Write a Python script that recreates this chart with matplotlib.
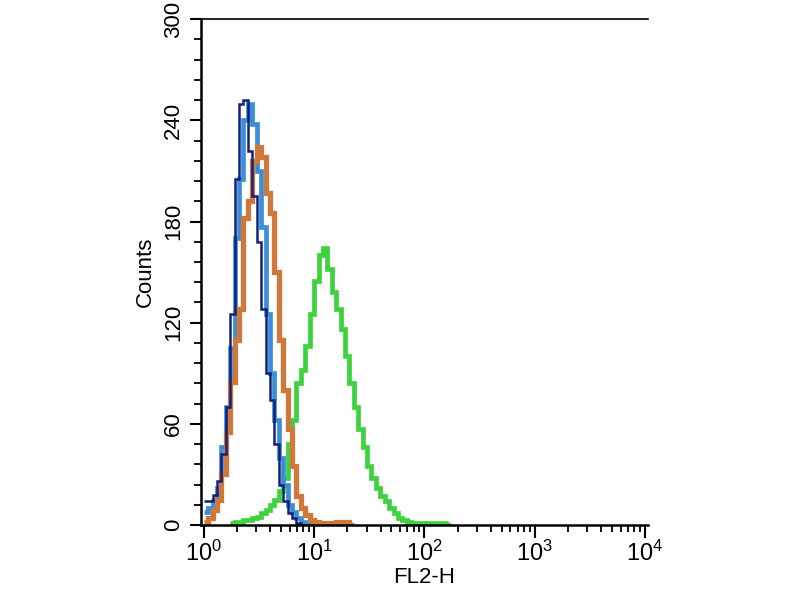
import numpy as np
import matplotlib
matplotlib.use("Agg")
import matplotlib.pyplot as plt
from matplotlib.ticker import MultipleLocator, LogLocator, NullFormatter

plt.rcParams['font.family'] = ['Liberation Sans', 'DejaVu Sans']

# histogram channels: 0.04 decade per bin, 100 bins over 4 decades
bin_width = 0.04
n_bins = 100

# counts per bin (start = first bin index of each series)
navy_start = 0
navy_counts = [14, 14, 18, 26, 42, 70, 125, 205, 250, 252, 222, 195, 168, 128,
               90, 74, 48, 24, 14, 7, 4, 1, 0]

blue_start = 0
blue_counts = [8, 10, 14, 22, 46, 70, 105, 170, 205, 240, 250, 238, 210, 177,
               125, 90, 62, 40, 24, 12, 8, 4, 2, 1, 0]

orange_start = 0
orange_counts = [2, 4, 9, 15, 30, 55, 85, 110, 128, 182, 192, 216, 224, 218,
                 197, 185, 150, 110, 80, 57, 35, 17, 10, 6, 3, 2, 1, 1, 1, 1,
                 2, 2, 2, 0]

green_start = 6
green_counts = [1, 2, 2, 3, 3, 4, 5, 7, 9, 12, 15, 20, 28, 48, 62, 84, 92, 106,
                125, 145, 160, 164, 152, 138, 128, 116, 100, 84, 70, 57, 46, 35,
                28, 22, 17, 14, 10, 7, 4, 3, 2, 1, 1, 1, 1, 1, 1, 1, 1, 0]

series = [
    (green_start, green_counts, '#3fd23f', 3.4),
    (blue_start, blue_counts, '#3b8fd9', 3.4),
    (orange_start, orange_counts, '#d0783a', 3.8),
    (navy_start, navy_counts, '#13207a', 1.8),
]

fig = plt.figure(figsize=(8, 6), dpi=100)
ax = fig.add_axes([0.251, 0.125, 0.559, 0.843])

for start, counts, color, lw in series:
    edges = 10 ** (bin_width * np.arange(start, start + len(counts) + 1))
    ax.stairs(counts, edges, color=color, linewidth=lw, baseline=None)

ax.set_xscale('log')
ax.set_xlim(10 ** -0.027, 10 ** 4.027)
ax.set_ylim(0, 300)

ax.spines['right'].set_visible(False)
ax.spines['left'].set_linewidth(1.8)
ax.spines['bottom'].set_linewidth(1.8)
ax.spines['top'].set_linewidth(1.2)

ax.set_xticks([1, 10, 100, 1000, 10000])
ax.set_xticklabels([r'$\mathregular{10^0}$', r'$\mathregular{10^1}$',
                    r'$\mathregular{10^2}$', r'$\mathregular{10^3}$',
                    r'$\mathregular{10^4}$'], fontsize=17)
ax.xaxis.set_minor_locator(LogLocator(base=10, subs=np.arange(2, 10)))
ax.xaxis.set_minor_formatter(NullFormatter())

ax.yaxis.set_major_locator(MultipleLocator(60))
ax.yaxis.set_minor_locator(MultipleLocator(12))
ax.tick_params(axis='y', which='major', length=8, width=1.5, labelsize=16,
               labelrotation=90, pad=4)
ax.tick_params(axis='y', which='minor', length=5, width=1.3)
ax.tick_params(axis='x', which='major', length=9, width=1.5, pad=2)
ax.tick_params(axis='x', which='minor', length=5, width=1.3)
for lab in ax.get_yticklabels():
    lab.set_va('center')

ax.set_ylabel('Counts', fontsize=16, labelpad=5)
ax.set_xlabel('FL2-H', fontsize=16, labelpad=1)

fig.savefig('out.png', dpi=100)
